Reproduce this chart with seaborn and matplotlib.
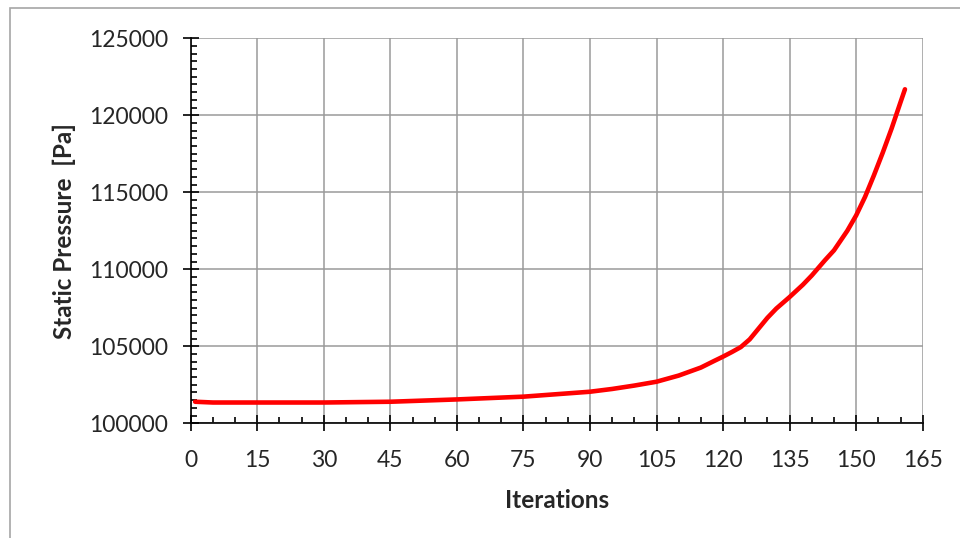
import matplotlib
matplotlib.use("Agg")
import matplotlib.pyplot as plt
import seaborn as sns
import pandas as pd
from matplotlib.ticker import MultipleLocator
from matplotlib.patches import Rectangle

iterations = [1, 5, 15, 30, 45, 60, 75, 90, 95, 100, 105, 110, 115, 118, 120,
              122, 124, 126, 128, 130, 132, 135, 138, 140, 143, 145, 148, 150,
              152, 154, 156, 158, 160, 161]
pressure = [101400, 101350, 101350, 101350, 101400, 101550, 101730, 102050,
            102230, 102450, 102700, 103100, 103620, 104050, 104330, 104630,
            104950, 105450, 106150, 106850, 107450, 108200, 109000, 109600,
            110600, 111230, 112500, 113500, 114700, 116100, 117580, 119150,
            120850, 121690]

x_ticks = list(range(0, 166, 15))
y_ticks = list(range(100000, 125001, 5000))

sns.set_style("white")
plt.rcParams['font.family'] = ['Lato', 'DejaVu Sans']

df = pd.DataFrame({"Iterations": iterations, "Pressure": pressure})

fig = plt.figure(figsize=(9.6, 5.38), dpi=100)
ax = fig.add_axes([190.7/960, 1-423.3/538, (922.7-190.7)/960, (423.3-38.3)/538])

sns.lineplot(data=df, x="Iterations", y="Pressure", ax=ax, color="#ff0000",
             linewidth=3.3, solid_capstyle="round", solid_joinstyle="round")

ax.set_xlim(0, 165)
ax.set_ylim(100000, 125000)
ax.set_xticks(x_ticks)
ax.set_yticks(y_ticks)
ax.set_xticklabels([str(v) for v in x_ticks])
ax.set_yticklabels([str(v) for v in y_ticks])
ax.xaxis.set_minor_locator(MultipleLocator(5))
ax.yaxis.set_minor_locator(MultipleLocator(500))

ax.grid(True, which="major", color="#9a9a9a", linewidth=1.1)
ax.grid(False, which="minor")
ax.set_axisbelow(True)
for s in ["top", "right"]:
    ax.spines[s].set_visible(False)
for s in ["left", "bottom"]:
    ax.spines[s].set_color("black")
    ax.spines[s].set_linewidth(1.2)
    ax.spines[s].set_zorder(3)

ax.tick_params(axis="both", which="both", bottom=True, left=True, top=False, right=False)
ax.tick_params(axis="both", which="major", direction="inout", length=11,
               width=1.2, color="black", labelsize=16.5, pad=11)
ax.tick_params(axis="both", which="minor", direction="in", length=4.5,
               width=1.2, color="black")
ax.tick_params(axis="x", which="major", pad=14)

ax.set_xlabel("Iterations", fontsize=17.5, fontweight="bold", labelpad=13)
ax.set_ylabel("Static Pressure  [Pa]", fontsize=17.5, fontweight="bold", labelpad=9)

fig.patches.append(Rectangle((10/960, -0.1), 1.2, 1 - 8/538 + 0.1,
                             transform=fig.transFigure, fill=False,
                             edgecolor="#a6a6a6", linewidth=1.2, zorder=0))

fig.savefig("out.png", dpi=100)
